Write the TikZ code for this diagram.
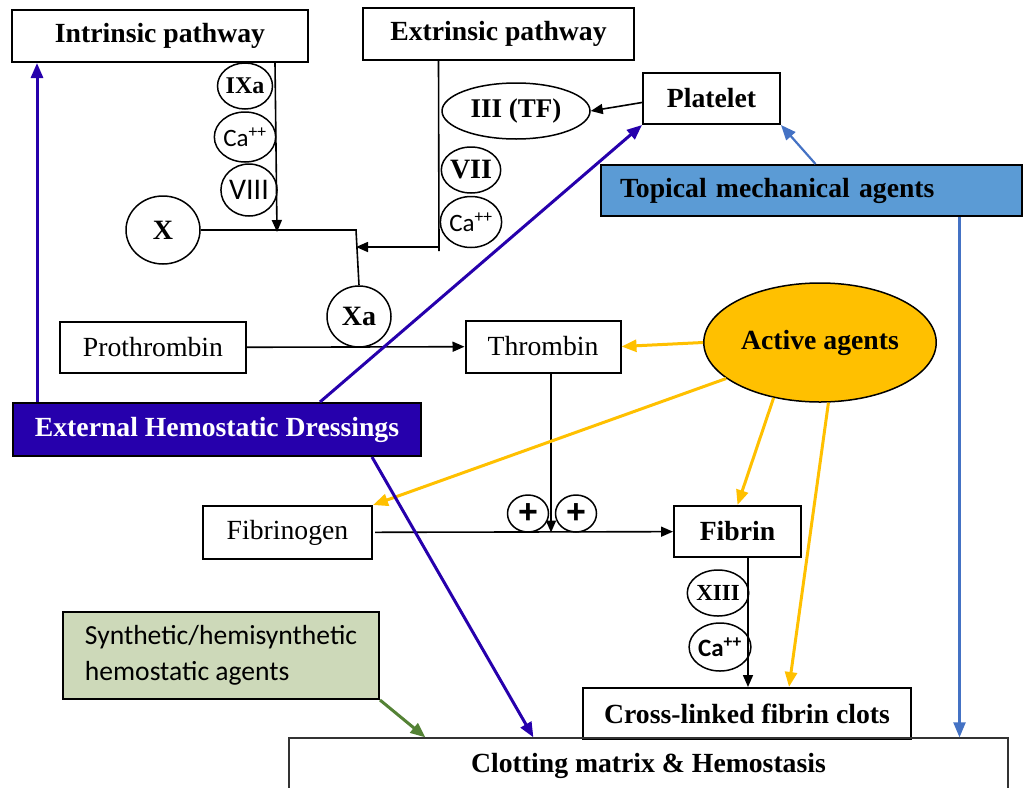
\documentclass[tikz,border=0pt]{standalone}
\usepackage{fontspec}
\setmainfont{Liberation Serif}
\newfontfamily\calibri{Carlito}
\newfontfamily\arialfont{Liberation Sans}
\usetikzlibrary{shapes.geometric,arrows.meta}

\definecolor{dressblue}{RGB}{38,0,172}
\definecolor{mechblue}{RGB}{91,155,213}
\definecolor{mechline}{RGB}{68,114,196}
\definecolor{activegold}{RGB}{255,192,0}
\definecolor{synthgreen}{RGB}{205,217,185}
\definecolor{synthline}{RGB}{84,130,53}

\newcommand{\bigtext}{\fontsize{27.7}{33}\selectfont}
\newcommand{\factortext}[1]{\fontsize{#1}{#1}\selectfont}

\begin{document}
\begin{tikzpicture}[x=1pt,y=-1pt,>={Triangle[length=12pt,width=10pt]},
  box/.style={draw,line width=2pt,inner sep=0pt,font=\bigtext\bfseries},
  plainbox/.style={box,font=\bigtext},
  factor/.style={draw,ellipse,line width=1.5pt,inner sep=0pt},
  flow/.style={->,line width=1.6pt},
  agent/.style={->,line width=3pt,>={Triangle[length=15pt,width=12pt]}}]
  \useasboundingbox (0,0) rectangle (1024,787);
  \clip (0,0) rectangle (1024,787);

  % pathway boxes
  \node[box,minimum width=296,minimum height=52] (intrinsic) at (160,36) {Intrinsic pathway};
  \node[box,minimum width=271,minimum height=52] (extrinsic) at (498.5,34) {Extrinsic pathway};
  \node[box,minimum width=137,minimum height=51] (platelet) at (711.5,98.5) {Platelet};
  \node[factor,minimum width=148,minimum height=56,font=\factortext{27}\bfseries] (tf) at (516,111) {III (TF)};
  \node[box,fill=mechblue,text width=383,inner xsep=19,align=left,minimum height=51] (topical) at (811.5,190.5) {Topical mechanical agents};
  \node[draw,ellipse,fill=activegold,line width=1.5pt,minimum width=216,minimum height=119,font=\bigtext\bfseries] (active) at (820,342.5) {Active agents};
  \node[plainbox,minimum width=186,minimum height=51] (prothrombin) at (153,347.5) {Prothrombin};
  \node[plainbox,minimum width=155,minimum height=52] (thrombin) at (543,346.5) {Thrombin};
  \node[box,fill=dressblue,text=white,minimum width=408,minimum height=53] (dressing) at (217,429.5) {External Hemostatic Dressings};
  \node[plainbox,minimum width=169,minimum height=53] (fibrinogen) at (287.5,532.5) {Fibrinogen};
  \node[box,minimum width=127,minimum height=51] (fibrin) at (737.5,531.5) {Fibrin};
  \node[box,minimum width=328,minimum height=51] (cross) at (747,713.5) {Cross-linked fibrin clots};
  \node[box,fill=synthgreen,font=\calibri\fontsize{27.6}{36}\selectfont,align=left,minimum width=316,minimum height=87] (synthetic) at (221,655.5) {Synthetic/hemisynthetic\\hemostatic agents};
  \node[draw=black!80,line width=1.2pt,inner sep=0pt,minimum width=719,minimum height=56,font=\bigtext\bfseries] (clotting) at (648.5,766) {Clotting matrix \& Hemostasis};

  % clotting factors
  \foreach \nm/\x/\y/\w/\h/\lab in {
    ixa/245/86/55/46/{\factortext{24}\bfseries IXa},
    caintr/245/137/55/50/{\calibri\factortext{25}Ca\textsuperscript{++}},
    viii/249/190/52/52/{\calibri\factortext{30}VIII},
    fx/163/230/74/68/{\factortext{28}\bfseries X},
    vii/471/170/58/46/{\factortext{28}\bfseries VII},
    caextr/471/222/58/51/{\calibri\factortext{25}Ca\textsuperscript{++}},
    xa/359/316.5/64/61/{\factortext{28}\bfseries Xa},
    plusa/528/513.5/41/37/{\arialfont\factortext{34}\bfseries +},
    plusb/576/513.5/41/37/{\arialfont\factortext{34}\bfseries +},
    xiii/718/593/54/46/{\factortext{23}\bfseries XIII},
    cafib/720/647/53/48/{\calibri\factortext{25}\bfseries Ca\textsuperscript{++}}}
    \node[factor,minimum width=\w,minimum height=\h] (\nm) at (\x,\y) {\lab};

  % cascade
  \coordinate (injoin) at (277,232);
  \coordinate (xcorner) at (356,230);
  \coordinate (extjoin) at (439,247);
  \draw[flow] ([xshift=115]intrinsic.south) -- (injoin);
  \draw[line width=1.6pt] (fx.east) -- (xcorner) -- (xa.north);
  \draw[line width=1.6pt] ([xshift=-60]extrinsic.south) -- ([yshift=-4]extjoin);
  \draw[flow] (extjoin) -- (extjoin -| xcorner);
  \draw[flow] ([yshift=-4]platelet.west) -- (tf.east);
  \draw[flow] (prothrombin) -- (thrombin);
  \draw[flow] ([xshift=8]thrombin.south) -- ([xshift=8]thrombin.south |- fibrinogen.east);
  \draw[flow,shorten <=2pt] (fibrinogen) -- (fibrin);
  \draw[flow] ([xshift=10.5]fibrin.south) -- ([xshift=10.5]fibrin.south |- cross.north);

  % hemostatic agents
  \draw[agent,mechline,line width=2.2pt] ([xshift=4]topical.north) -- (platelet.south east);
  \draw[agent,mechline,line width=2.2pt] ([xshift=148]topical.south) -- ([xshift=148]topical.south |- clotting.north);
  \draw[agent,activegold] (active.west) -- (thrombin.east);
  \draw[agent,activegold] (active.201) -- (fibrinogen.north east);
  \draw[agent,activegold] (active.230) -- (fibrin.north);
  \draw[agent,activegold] (active.278) -- ([xshift=42]cross.north);
  \draw[agent,dressblue] ([xshift=25]dressing.north west) -- ([xshift=25]dressing.north west |- intrinsic.south);
  \draw[agent,dressblue] ([xshift=103]dressing.north) -- (platelet.south west);
  \draw[agent,dressblue] ([xshift=155]dressing.south) -- ([xshift=245]clotting.north west);
  \draw[agent,synthline] (synthetic.south east) -- ([xshift=137]clotting.north west);
\end{tikzpicture}
\end{document}
